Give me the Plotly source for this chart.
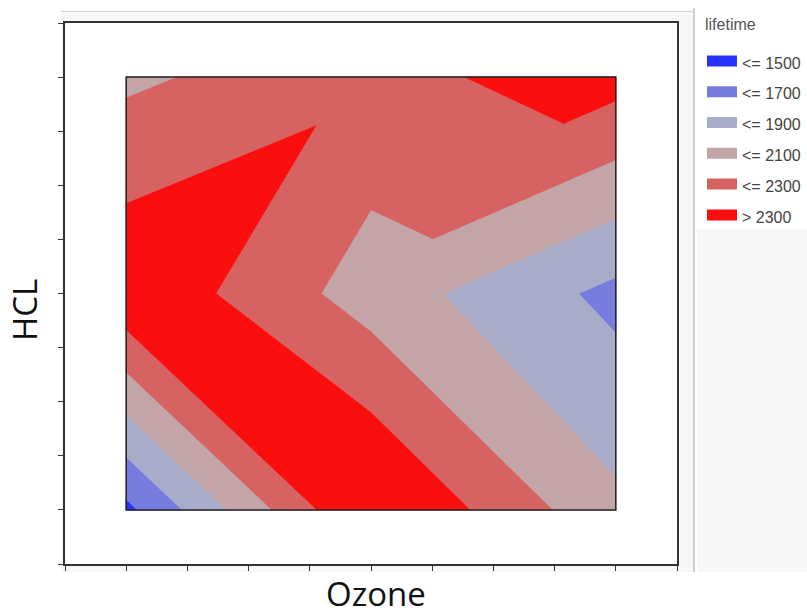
import plotly.graph_objects as go

# Lifetime measured on a 3 x 3 design of Ozone and HCL levels
ozone = [1, 5, 9]
hcl = [1, 5, 9]
lifetime = [
    [1450, 2540, 1945],   # HCL = 1
    [2470, 2005, 1645],   # HCL = 5
    [2060, 2250, 2380],   # HCL = 9
]

levels = [1500, 1700, 1900, 2100, 2300]
band_labels = ["<= 1500", "<= 1700", "<= 1900", "<= 2100", "<= 2300", "> 2300"]
band_colors = ["#2832ff", "#767dde", "#a8acc8", "#c4a5a7", "#d66262", "#fb0e0e"]

# Triangular mesh over the design points, as (hcl index, ozone index) triples
triangles = [
    ((0, 0), (0, 1), (1, 0)), ((0, 1), (1, 1), (1, 0)),
    ((0, 1), (0, 2), (1, 1)), ((0, 2), (1, 2), (1, 1)),
    ((1, 0), (2, 1), (2, 0)), ((1, 0), (1, 1), (2, 1)),
    ((1, 1), (1, 2), (2, 2)), ((1, 1), (2, 2), (2, 1)),
]


def clip(poly, level, keep_above):
    """Clip a polygon with linear values at its vertices against one level."""
    out = []
    n = len(poly)
    for i in range(n):
        p, q = poly[i], poly[(i + 1) % n]
        fp = p[2] - level if keep_above else level - p[2]
        fq = q[2] - level if keep_above else level - q[2]
        if fp >= 0:
            out.append(p)
        if (fp >= 0) != (fq >= 0):
            t = fp / (fp - fq)
            out.append(tuple(p[k] + t * (q[k] - p[k]) for k in range(3)))
    return out


fig = go.Figure()

for k, (label, color) in enumerate(zip(band_labels, band_colors)):
    lo = levels[k - 1] if k > 0 else None
    hi = levels[k] if k < len(levels) else None
    xs, ys = [], []
    for tri in triangles:
        poly = [(ozone[c], hcl[r], lifetime[r][c]) for r, c in tri]
        if lo is not None:
            poly = clip(poly, lo, True)
        if hi is not None and len(poly) >= 3:
            poly = clip(poly, hi, False)
        if len(poly) >= 3:
            xs += [p[0] for p in poly] + [poly[0][0], None]
            ys += [p[1] for p in poly] + [poly[0][1], None]
    fig.add_trace(go.Scatter(
        x=xs, y=ys, mode="lines", fill="toself", fillcolor=color,
        line=dict(color=color, width=1), hoverinfo="skip", showlegend=False,
    ))

# legend entries for the bands
for label, color in zip(band_labels, band_colors):
    fig.add_trace(go.Scatter(
        x=[None], y=[None], mode="lines", fill="toself", fillcolor=color,
        line=dict(color=color, width=10), name=label, legendgroup=label,
    ))

# outline of the measured region
fig.add_shape(type="rect", xref="x", yref="y",
              x0=min(ozone), x1=max(ozone), y0=min(hcl), y1=max(hcl),
              line=dict(color="#222", width=1.5), layer="above")

# window chrome around the graph and legend
W, H, L, R, T, B = 807, 615, 65, 677, 23, 564
def px(X):
    return (X - L) / (R - L)
def py(Y):
    return 1 - (Y - T) / (B - T)

fig.add_shape(type="rect", xref="paper", yref="paper", layer="below",
              x0=px(61), x1=px(693), y0=py(572), y1=py(11),
              fillcolor="#f7f7f7", line=dict(width=0))
fig.add_shape(type="rect", xref="paper", yref="paper", layer="below",
              x0=0, x1=1, y0=0, y1=1, fillcolor="white", line=dict(width=0))
fig.add_shape(type="line", xref="paper", yref="paper", layer="below",
              x0=px(61), x1=px(693), y0=py(11.5), y1=py(11.5),
              line=dict(color="#d4d4d4", width=1))
fig.add_shape(type="rect", xref="paper", yref="paper", layer="below",
              x0=px(697), x1=px(808), y0=py(572), y1=py(229),
              fillcolor="#f7f7f7", line=dict(width=0))
fig.add_shape(type="line", xref="paper", yref="paper", layer="below",
              x0=px(694), x1=px(694), y0=py(572), y1=py(8),
              line=dict(color="#bcbcbc", width=1.5))

axis_common = dict(
    range=[0, 10], tickvals=list(range(11)), showticklabels=False,
    ticks="outside", ticklen=5, tickwidth=1.2, tickcolor="#333",
    showline=True, mirror=True, linecolor="#333", linewidth=1.5,
    showgrid=False, zeroline=False, fixedrange=True,
)

title_font = dict(family="Open Sans", size=33, color="#111")
fig.add_annotation(text="Ozone", xref="paper", yref="paper", showarrow=False,
                   x=px(376), y=py(593), xanchor="center", yanchor="middle",
                   font=title_font)
fig.add_annotation(text="HCL", xref="paper", yref="paper", showarrow=False,
                   x=px(24), y=py(310), xanchor="center", yanchor="middle",
                   textangle=-90, font=title_font)
fig.add_annotation(text="lifetime", xref="paper", yref="paper", showarrow=False,
                   x=px(703), y=py(24), xanchor="left", yanchor="middle",
                   font=dict(family="Liberation Sans", size=16, color="#555"))

fig.update_layout(
    width=W, height=H,
    margin=dict(l=L, r=W - R, t=T, b=H - B, pad=0, autoexpand=False),
    paper_bgcolor="white", plot_bgcolor="white",
    xaxis=axis_common,
    yaxis=axis_common,
    legend=dict(
        x=px(702), y=py(45.5), xanchor="left", yanchor="top",
        bgcolor="rgba(0,0,0,0)", borderwidth=0,
        font=dict(family="Liberation Sans", size=16, color="#444"),
        traceorder="grouped", tracegroupgap=7, itemwidth=30,
    ),
)

fig.write_html("out.html")
